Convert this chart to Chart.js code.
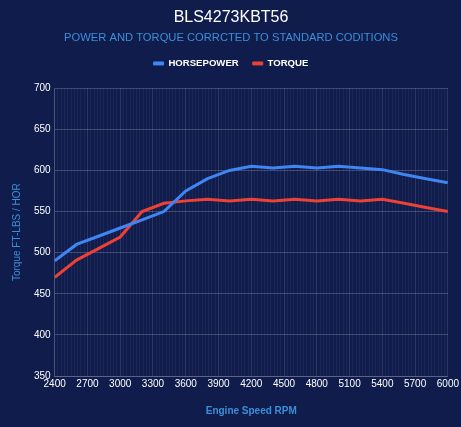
<!DOCTYPE html>
<html>
<head>
<meta charset="utf-8">
<script src="https://cdn.jsdelivr.net/npm/chart.js@4.4.0/dist/chart.umd.min.js"></script>
<style>
  html, body { margin: 0; padding: 0; background: #101c4c; }
  #wrap { width: 461px; height: 427px; position: relative; }
</style>
</head>
<body>
<div id="wrap"><canvas id="dynoChart"></canvas></div>
<script>
// rpm sampled every 200
const rpm = [2400, 2600, 2800, 3000, 3200, 3400, 3600, 3800, 4000, 4200,
             4400, 4600, 4800, 5000, 5200, 5400, 5600, 5800, 6000];
const horsepower = [490, 510, 520, 530, 540, 550, 575, 590, 600, 605,
                    603, 605, 603, 605, 603, 601, 595, 590, 585];
const torque = [470, 491, 505, 519, 550, 560, 563, 565, 563, 565,
                563, 565, 563, 565, 563, 565, 560, 555, 550];

const rpmMin = 2400, rpmMax = 6000, rpmLabelStep = 300, rpmGridStep = 30;
const yMin = 350, yMax = 700, yStep = 50;

const toPoints = (vals) => vals.map((v, i) => ({ x: rpm[i], y: v }));

Chart.defaults.font.family = '"Liberation Sans", Arial, sans-serif';

// push the plot area a bit further below the legend
const legendGap = {
    id: 'legendGap',
    beforeInit(chart) {
        const fit = chart.legend.fit;
        chart.legend.fit = function () {
            fit.bind(chart.legend)();
            this.height += 10;
        };
    }
};

const defaultLabels = Chart.defaults.plugins.legend.labels.generateLabels;

new Chart(document.getElementById('dynoChart'), {
    type: 'line',
    data: {
        datasets: [{
            label: 'HORSEPOWER',
            data: toPoints(horsepower),
            borderColor: '#3f86f2',
            backgroundColor: '#3f86f2',
            borderWidth: 3,
            pointRadius: 0,
            tension: 0
        }, {
            label: 'TORQUE',
            data: toPoints(torque),
            borderColor: '#eb4136',
            backgroundColor: '#eb4136',
            borderWidth: 3,
            pointRadius: 0,
            tension: 0
        }]
    },
    plugins: [legendGap],
    options: {
        responsive: true,
        maintainAspectRatio: false,
        animation: false,
        layout: { padding: { left: 7, right: 6, top: 0, bottom: 6 } },
        plugins: {
            title: {
                display: true,
                text: 'BLS4273KBT56',
                color: '#ffffff',
                font: { size: 16, weight: 'normal' },
                padding: { top: 8, bottom: 4 }
            },
            subtitle: {
                display: true,
                text: 'POWER AND TORQUE CORRCTED TO STANDARD CODITIONS',
                color: '#3b8fd8',
                font: { size: 11.2 },
                padding: { bottom: 0 }
            },
            legend: {
                labels: {
                    color: '#ffffff',
                    boxWidth: 10,
                    boxHeight: 3,
                    font: { size: 9.6, weight: 'bold' },
                    padding: 14,
                    generateLabels: (chart) => defaultLabels(chart).map((l) => ({ ...l, lineWidth: 1 }))
                }
            },
            tooltip: { enabled: false }
        },
        scales: {
            x: {
                type: 'linear',
                min: rpmMin,
                max: rpmMax,
                title: {
                    display: true,
                    text: 'Engine Speed RPM',
                    color: '#3b8fd8',
                    font: { size: 10, weight: 'bold' },
                    padding: { top: 13 }
                },
                ticks: {
                    stepSize: rpmGridStep,
                    autoSkip: false,
                    maxRotation: 0,
                    color: '#ffffff',
                    font: { size: 10 },
                    padding: 2,
                    callback: (v) => (v % rpmLabelStep === 0 ? String(v) : '')
                },
                grid: {
                    color: (ctx) => (ctx.tick && ctx.tick.value % rpmLabelStep === 0)
                        ? 'rgba(255,255,255,0.12)' : 'rgba(255,255,255,0.05)',
                    drawTicks: false
                },
                border: { color: 'rgba(255,255,255,0.15)' }
            },
            y: {
                min: yMin,
                max: yMax,
                title: {
                    display: true,
                    text: 'Torque FT-LBS / HOR',
                    color: '#3b8fd8',
                    font: { size: 10 },
                    padding: { bottom: 7 }
                },
                ticks: {
                    stepSize: yStep,
                    color: '#ffffff',
                    font: { size: 10 },
                    padding: 4
                },
                grid: {
                    color: 'rgba(255,255,255,0.2)',
                    drawTicks: false
                },
                border: { color: 'rgba(255,255,255,0.15)' }
            }
        }
    }
});
</script>
</body>
</html>
